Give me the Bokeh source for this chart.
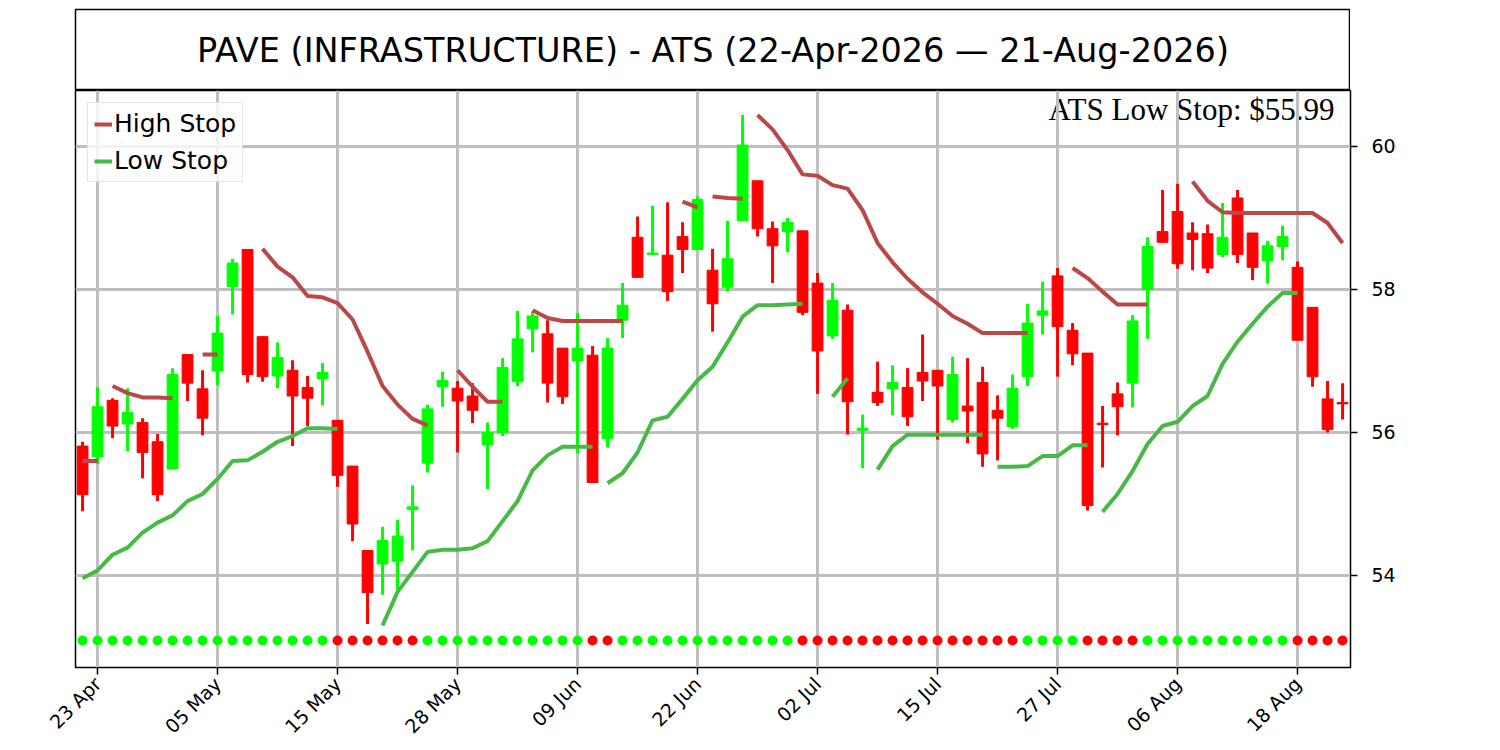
import math
from bokeh.plotting import figure
from bokeh.layouts import column
from bokeh.models import Range1d, FixedTicker, Label, ColumnDataSource
from bokeh.core.properties import value
from bokeh.embed import file_html
from bokeh.resources import INLINE

# ---------------- data ----------------
title_text = "PAVE (INFRASTRUCTURE) - ATS (22-Apr-2026 \u2014 21-Aug-2026)"
annotation_text = "ATS Low Stop: $55.99"

tick_idx = [1, 9, 17, 25, 33, 41, 49, 57, 65, 73, 81]
tick_labels = ["23 Apr", "05 May", "15 May", "28 May", "09 Jun", "22 Jun",
               "02 Jul", "15 Jul", "27 Jul", "06 Aug", "18 Aug"]

opens = [55.81, 55.66, 56.45, 56.12, 56.14, 55.87, 55.49, 57.09, 56.61, 56.86,
         58.04, 58.56, 57.34, 56.79, 56.87, 56.63, 56.75, 56.17, 55.53, 54.35,
         54.16, 54.20, 54.92, 55.57, 56.64, 56.62, 56.51, 55.83, 56.00, 56.71,
         57.45, 57.38, 57.18, 57.00, 57.08, 55.91, 57.57, 58.73, 58.49, 58.48,
         58.74, 58.56, 58.27, 58.03, 58.96, 59.52, 58.85, 58.81, 58.82, 58.09,
         57.35, 57.71, 56.03, 56.56, 56.61, 56.63, 56.84, 56.87, 56.18, 56.37,
         56.70, 56.31, 56.08, 56.78, 57.64, 58.19, 57.43, 57.11, 56.13, 56.54,
         56.69, 58.00, 58.81, 59.09, 58.79, 58.78, 58.49, 59.28, 58.79, 58.40,
         58.60, 58.31, 57.75, 56.47, 56.42]
closes = [55.13, 56.36, 56.09, 56.28, 55.72, 55.13, 56.81, 56.69, 56.20, 57.39,
          58.37, 56.81, 56.78, 57.05, 56.51, 56.48, 56.84, 55.40, 54.72, 53.76,
          54.49, 54.55, 54.96, 56.33, 56.73, 56.44, 56.31, 56.00, 56.91, 57.31,
          57.63, 56.69, 56.50, 57.18, 55.30, 57.18, 57.78, 58.17, 58.51, 57.97,
          58.56, 59.26, 57.80, 58.43, 60.02, 58.85, 58.61, 58.94, 57.68, 57.14,
          57.85, 56.43, 56.06, 56.42, 56.70, 56.22, 56.72, 56.65, 56.81, 56.30,
          55.70, 56.20, 56.62, 57.53, 57.70, 57.48, 57.10, 54.98, 56.11, 56.36,
          57.56, 58.60, 58.66, 58.36, 58.70, 58.30, 58.73, 58.49, 58.31, 58.61,
          58.74, 57.29, 56.78, 56.04, 56.40]
highs = [55.87, 56.63, 56.48, 56.62, 56.20, 55.98, 56.90, 57.09, 56.87, 57.63,
         58.43, 58.56, 57.34, 57.26, 57.01, 56.79, 56.97, 56.17, 55.53, 54.35,
         54.68, 54.78, 55.26, 56.39, 56.85, 56.72, 56.69, 56.14, 57.04, 57.70,
         57.69, 57.57, 57.18, 57.67, 57.21, 57.32, 58.09, 59.02, 59.17, 59.22,
         58.94, 59.30, 58.57, 58.96, 60.44, 59.52, 58.95, 59.00, 58.82, 58.23,
         58.09, 57.79, 56.25, 56.99, 56.94, 56.90, 57.37, 56.87, 57.06, 57.04,
         56.92, 56.52, 56.81, 57.80, 58.11, 58.30, 57.53, 57.11, 56.37, 56.70,
         57.64, 58.73, 59.39, 59.48, 58.94, 58.91, 59.21, 59.39, 58.79, 58.68,
         58.89, 58.39, 57.75, 56.72, 56.69]
lows = [54.90, 55.56, 55.92, 55.74, 55.36, 55.04, 55.49, 56.44, 55.96, 56.66,
        57.65, 56.70, 56.71, 56.62, 55.81, 56.09, 56.38, 55.24, 54.48, 53.32,
        53.73, 53.79, 54.35, 55.44, 56.36, 55.72, 56.13, 55.21, 55.95, 56.65,
        57.12, 56.42, 56.40, 55.71, 55.30, 55.79, 57.32, 58.16, 58.49, 57.84,
        58.23, 58.56, 57.41, 57.97, 58.96, 58.74, 58.09, 58.52, 57.64, 56.54,
        57.31, 55.97, 55.50, 56.37, 56.24, 56.09, 56.44, 55.90, 56.14, 55.85,
        55.52, 55.61, 56.05, 56.65, 57.37, 56.78, 56.94, 54.91, 55.51, 55.96,
        56.35, 57.31, 58.66, 58.29, 58.27, 58.23, 58.45, 58.37, 58.13, 58.08,
        58.41, 57.29, 56.64, 56.00, 56.18]

# stop lines: (first index, values)
high_stop_segments = [
    (0, [55.60, 55.60]),
    (2, [56.65, 56.55, 56.49, 56.49, 56.48]),
    (8, [57.09, 57.09]),
    (12, [58.57, 58.32, 58.17, 57.91, 57.89, 57.81, 57.58, 57.13, 56.65, 56.39, 56.19, 56.10]),
    (25, [56.87, 56.64, 56.43, 56.43]),
    (30, [57.71, 57.60, 57.56, 57.56, 57.56, 57.56, 57.56]),
    (40, [59.23, 59.15]),
    (42, [59.30, 59.28, 59.27]),
    (45, [60.44, 60.24, 59.95, 59.61, 59.59, 59.46, 59.41, 59.11, 58.65, 58.38, 58.15,
          57.96, 57.80, 57.63, 57.52, 57.39, 57.39, 57.39, 57.39]),
    (66, [58.30, 58.16, 57.97, 57.79, 57.79, 57.79]),
    (74, [59.51, 59.24, 59.08, 59.07, 59.07, 59.07, 59.07, 59.07, 59.07, 58.93, 58.65]),
]
low_stop_segments = [
    (0, [53.96, 54.07, 54.29, 54.39, 54.60, 54.74, 54.84, 55.04, 55.14, 55.35, 55.60,
         55.61, 55.73, 55.87, 55.95, 56.06, 56.06, 56.05]),
    (20, [53.30, 53.77, 54.05, 54.33, 54.36, 54.36, 54.38, 54.48, 54.76, 55.04, 55.47,
          55.68, 55.80, 55.80, 55.80]),
    (35, [55.29, 55.43, 55.72, 56.17, 56.22, 56.47, 56.73, 56.92, 57.26, 57.62, 57.78,
          57.78, 57.79, 57.80]),
    (50, [56.50, 56.76]),
    (53, [55.48, 55.81, 55.97, 55.97, 55.97, 55.97, 55.97, 55.97]),
    (61, [55.52, 55.52, 55.53, 55.67, 55.67, 55.82, 55.82]),
    (68, [54.89, 55.14, 55.46, 55.84, 56.09, 56.15, 56.37, 56.51, 56.96, 57.27, 57.52,
          57.76, 57.95, 57.95]),
]

# trend signal per bar (1 = up / green, 0 = down / red)
trend = ([1] * 17 + [0] * 6 + [1] * 11 + [0] * 2 + [1] * 12 + [0] * 15 +
         [1] * 4 + [0] * 4 + [1] * 10 + [0] * 4)
signal_level = 53.09

y_ticks = [54, 56, 58, 60]

# ---------------- styling ----------------
GREEN = "#00ff00"
RED = "#ff0000"
HI_COL = "#bc4747"
LO_COL = "#47b947"
GRID = "#bfbfbf"
FONT = "DejaVu Sans"

n = len(opens)
xs = list(range(n))
up = [c >= o for o, c in zip(opens, closes)]
cols = [GREEN if u else RED for u in up]
src = ColumnDataSource(dict(
    x=xs,
    top=[max(o, c) for o, c in zip(opens, closes)],
    bottom=[min(o, c) for o, c in zip(opens, closes)],
    high=highs, low=lows, color=cols,
))

FW = 1275
FH = 577
LEFT = 75

# title box
pt = figure(frame_width=FW, frame_height=81, x_range=Range1d(0, 1), y_range=Range1d(0, 1),
            x_axis_location=None, y_axis_location=None, toolbar_location=None,
            output_backend="svg", min_border_left=LEFT, min_border_right=0,
            min_border_top=9, min_border_bottom=0)
pt.grid.visible = False
pt.outline_line_color = "black"
pt.outline_line_width = 1.5
pt.text(x=[0.5], y=[0.5], text=[title_text], text_align="center", text_baseline="middle",
        text_font=value(FONT), text_font_size="33.5px", text_color="black")

# main chart
p = figure(frame_width=FW, frame_height=FH, x_range=Range1d(-0.47, 84.53),
           y_range=Range1d(52.713, 60.783), y_axis_location="right",
           toolbar_location=None, output_backend="svg",
           min_border_left=LEFT, min_border_right=10, min_border_top=0, min_border_bottom=10)
p.outline_line_color = "black"
p.outline_line_width = 1.5

p.xaxis.ticker = FixedTicker(ticks=tick_idx)
p.xaxis.major_label_overrides = {i: lab for i, lab in zip(tick_idx, tick_labels)}
p.xaxis.major_label_orientation = math.pi / 4
p.yaxis.ticker = FixedTicker(ticks=y_ticks)
for ax in (p.xaxis, p.yaxis):
    ax.axis_line_color = None
    ax.minor_tick_line_color = None
    ax.major_tick_in = 0
    ax.major_tick_out = 7
    ax.major_tick_line_width = 1.5
    ax.major_label_text_font = FONT
    ax.major_label_text_font_size = "19px"
    ax.major_label_text_color = "black"
p.yaxis.major_label_standoff = 14
p.xaxis.major_label_standoff = 6

p.grid.grid_line_color = GRID
p.grid.grid_line_width = 3
p.xgrid.ticker = FixedTicker(ticks=tick_idx)
p.ygrid.ticker = FixedTicker(ticks=y_ticks)

# candles
p.segment(x0="x", y0="low", x1="x", y1="high", source=src, line_color="color", line_width=3)
p.vbar(x="x", width=0.72, top="top", bottom="bottom", source=src,
       fill_color="color", line_color="color", line_width=1)

# stops
for k, (s, vals) in enumerate(high_stop_segments):
    kw = dict(legend_label="High Stop") if k == 0 else {}
    p.line(list(range(s, s + len(vals))), vals, line_color=HI_COL, line_width=4, **kw)
for k, (s, vals) in enumerate(low_stop_segments):
    kw = dict(legend_label="Low Stop") if k == 0 else {}
    p.line(list(range(s, s + len(vals))), vals, line_color=LO_COL, line_width=4, **kw)

# signal dots
p.scatter(xs, [signal_level] * n, size=10, line_color=None,
          fill_color=[GREEN if t else RED for t in trend])

p.add_layout(Label(x=FW - 16, y=FH - 19, x_units="screen", y_units="screen",
                   text=annotation_text, text_align="right", text_baseline="alphabetic",
                   text_font="Liberation Serif", text_font_size="31px", text_color="black",
                   level="image"))

lg = p.legend[0]
lg.location = "top_left"
lg.margin = 12
lg.padding = 6
lg.spacing = 8
lg.label_standoff = 2
lg.label_text_font = FONT
lg.label_text_font_size = "25px"
lg.label_text_color = "black"
lg.label_text_baseline = "middle"
lg.glyph_width = 18
lg.glyph_height = 28
lg.label_height = 28
lg.border_line_color = "#cccccc"
lg.border_line_width = 1.5
lg.background_fill_alpha = 0.8

layout = column(pt, p, spacing=0)
open("out.html", "w").write(file_html(layout, INLINE))
